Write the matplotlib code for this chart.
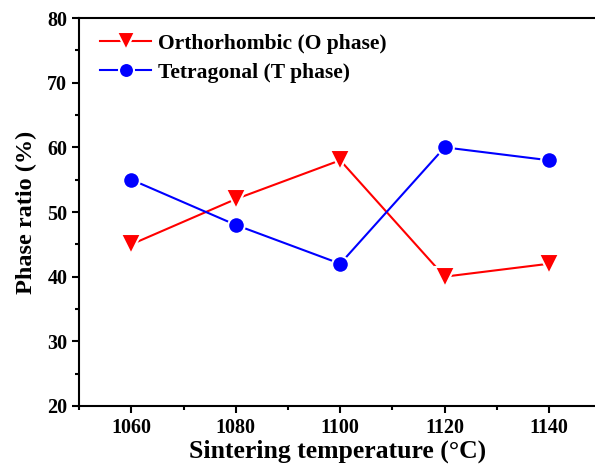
import matplotlib.pyplot as plt
from matplotlib.ticker import MultipleLocator

# sintering temperature (degC) and phase ratios (%)
temps = [1060, 1080, 1100, 1120, 1140]
ortho = [45, 52, 58, 40, 42]
tetra = [55, 48, 42, 60, 58]

plt.rcParams["font.family"] = ["Liberation Serif", "DejaVu Serif"]
plt.rcParams["font.weight"] = "bold"

fig = plt.figure(figsize=(5.95, 4.68), dpi=100)
ax = fig.add_axes([0.133, 0.1325, 0.867, 0.829])

# white marker edge gives the small gap between line and symbol
ax.plot(temps, ortho, color="red", marker="v", markersize=14, lw=1.5,
        markeredgecolor="white", markeredgewidth=1.5,
        label="Orthorhombic (O phase)")
ax.plot(temps, tetra, color="blue", marker="o", markersize=12, lw=1.5,
        markeredgecolor="white", markeredgewidth=1.5,
        label="Tetragonal (T phase)")

ax.set_xlim(1050, 1148.8)
ax.set_ylim(20, 80)
ax.xaxis.set_major_locator(MultipleLocator(20))
ax.xaxis.set_minor_locator(MultipleLocator(10))
ax.yaxis.set_major_locator(MultipleLocator(10))
ax.yaxis.set_minor_locator(MultipleLocator(5))

ax.spines["right"].set_visible(False)
for s in ["left", "top", "bottom"]:
    ax.spines[s].set_linewidth(1.5)
ax.tick_params(which="major", direction="out", length=5, width=1.5, labelsize=14.5)
ax.tick_params(which="minor", direction="out", length=3, width=1.5)
ax.tick_params(top=False, right=False)

ax.set_xlabel("Sintering temperature (\u00b0C)", fontsize=18.5, fontweight="bold", labelpad=1)
ax.set_ylabel("Phase ratio (%)", fontsize=17.5, fontweight="bold", labelpad=7)

ax.legend(loc="upper left", bbox_to_anchor=(0.04, 0.96), frameon=False,
          borderpad=0, borderaxespad=0, markerscale=0.9,
          prop={"size": 15.5, "weight": "bold"}, handlelength=2.4,
          handletextpad=0.3, labelspacing=0.42)

fig.savefig("out.png", dpi=100)
